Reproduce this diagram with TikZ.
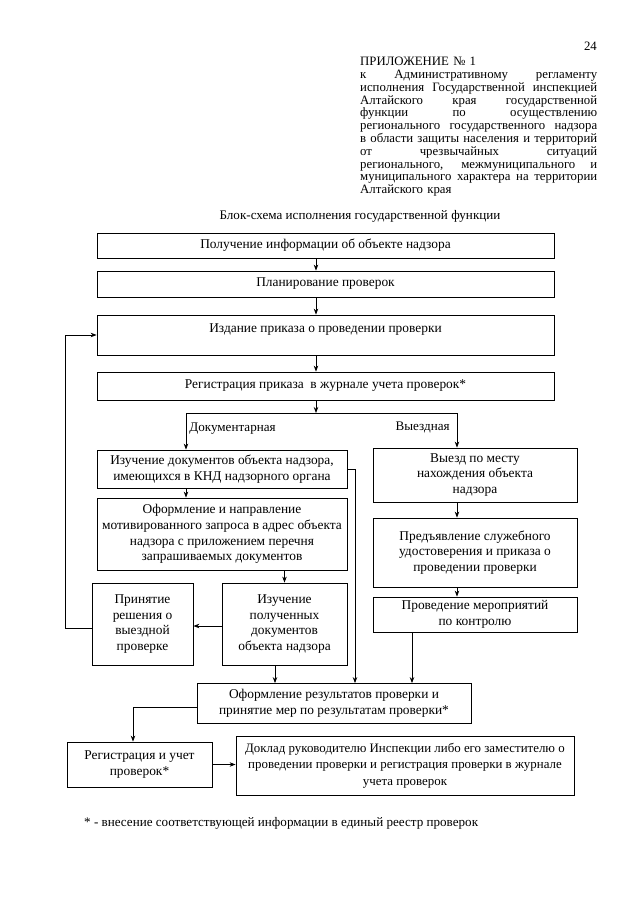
\documentclass[tikz,border=0pt]{standalone}
\usepackage{fontspec}
\setmainfont{Liberation Serif}
\usetikzlibrary{arrows.meta}
\newcommand{\bxfont}{\fontsize{13.4}{15.8}\selectfont}
\newcommand{\dkfont}{\fontsize{12.9}{16.5}\selectfont}
\newcommand{\ttlfont}{\fontsize{13.1}{15.8}\selectfont}
\newcommand{\hdfont}{\fontsize{12.8}{12.8}\selectfont}
\newcommand{\jl}[1]{\leavevmode\hbox to 237pt{\spaceskip=0.25em plus 1fil minus 0.1em\relax #1}}
\begin{document}
\begin{tikzpicture}[x=1pt,y=-1pt,
  box/.style={draw,line width=0.8pt,align=center,font=\bxfont,inner sep=0pt},
  arr/.style={-{Stealth[length=6pt,width=4.5pt]},line width=0.8pt},
  ln/.style={line width=0.8pt}]
\useasboundingbox (0,0) rectangle (640,905);
% header
\node[anchor=base east,font=\hdfont,inner sep=0pt] (pg) at (597,50) {24};
\node[anchor=north west,text width=237pt,align=left,font=\hdfont,inner sep=0pt] (hdr) at (360,57) {%
ПРИЛОЖЕНИЕ № 1\\
\jl{к Административному регламенту}\\
\jl{исполнения Государственной инспекцией}\\
\jl{Алтайского края государственной}\\
\jl{функции по осуществлению}\\
\jl{регионального государственного надзора}\\
\jl{в области защиты населения и территорий}\\
\jl{от чрезвычайных ситуаций}\\
\jl{регионального, межмуниципального и}\\
\jl{муниципального характера на территории}\\
Алтайского края};
\node[font=\ttlfont,inner sep=0pt] (title) at (360,216) {Блок-схема исполнения государственной функции};
% main column
\node[box,minimum width=457pt,minimum height=25pt] (b1) at (325.5,245.5) {Получение информации об объекте надзора};
\node[box,minimum width=457pt,minimum height=26pt] (b2) at (325.5,284) {Планирование проверок};
\node[box,minimum width=457pt,minimum height=40pt,text height=9pt,text depth=14pt] (b3) at (325.5,335) {Издание приказа о проведении проверки};
\node[box,minimum width=457pt,minimum height=28pt] (b4) at (325.5,386) {Регистрация приказа \ в журнале учета проверок*};
\coordinate (cx) at (316,0);
\draw[arr] (b1.south -| cx) -- (b2.north -| cx);
\draw[arr] (b2.south -| cx) -- (b3.north -| cx);
\draw[arr] (b3.south -| cx) -- (b4.north -| cx);
\coordinate (split) at (316,413);
\coordinate (sl) at (186,413);
\coordinate (sr) at (457,413);
\draw[arr] (b4.south -| cx) -- (split);
\draw[ln] (sl) -- (sr);
% left branch
\node[box,minimum width=250pt,minimum height=38pt] (d1) at (222,469) {Изучение документов объекта надзора,\\имеющихся в КНД надзорного органа};
\node[box,minimum width=250pt,minimum height=72pt] (d2) at (222,534) {Оформление и направление\\мотивированного запроса в адрес объекта\\надзора с приложением перечня\\запрашиваемых документов};
\node[box,minimum width=101pt,minimum height=82pt] (dec) at (142.5,624) {Принятие\\решения о\\выездной\\проверке};
\node[box,minimum width=125pt,minimum height=82pt] (rcv) at (284.5,624) {Изучение\\полученных\\документов\\объекта надзора};
\draw[arr] (sl) -- (d1.north -| sl) node[pos=0.42,right=2pt,font=\ttlfont,inner sep=1pt] (lbd) {Документарная};
\draw[arr] (d1.south -| sl) -- (d2.north -| sl);
\draw[arr] (d2.south -| rcv) -- (rcv.north);
\draw[arr] (rcv.west |- 0,626) -- (dec.east |- 0,626);
\coordinate (lft) at (65,0);
\draw[arr] (dec.west |- 0,628) -| (lft |- b3.west) -- (b3.west);
% right branch
\node[box,minimum width=204pt,minimum height=54pt] (v1) at (475,475) {Выезд по месту\\нахождения объекта\\надзора};
\node[box,minimum width=204pt,minimum height=69pt] (v2) at (475,552.5) {Предъявление служебного\\удостоверения и приказа о\\проведении проверки};
\node[box,minimum width=204pt,minimum height=35pt] (v3) at (475,614.5) {Проведение мероприятий\\по контролю};
\draw[arr] (sr) -- (v1.north -| sr) node[pos=0.42,left=6pt,font=\ttlfont,inner sep=1pt] (lbv) {Выездная};
\draw[arr] (v1.south -| sr) -- (v2.north -| sr);
\draw[arr] (v2.south -| sr) -- (v3.north -| sr);
% results
\node[box,minimum width=274pt,minimum height=40pt] (res) at (334,703.5) {Оформление результатов проверки и\\принятие мер по результатам проверки*};
\coordinate (c1) at (275,0);
\coordinate (c2) at (355,0);
\coordinate (c3) at (412,0);
\draw[arr] (rcv.south -| c1) -- (res.north -| c1);
\draw[arr] (d1.east) -| (res.north -| c2);
\draw[arr] (v3.south -| c3) -- (res.north -| c3);
\node[box,minimum width=145pt,minimum height=45pt] (reg) at (139.5,764.5) {Регистрация и учет\\проверок*};
\node[box,font=\dkfont,minimum width=338pt,minimum height=59pt] (dok) at (405,765.5) {Доклад руководителю Инспекции либо его заместителю о\\проведении проверки и регистрация проверки в журнале\\учета проверок};
\coordinate (c4) at (133,0);
\draw[arr] (res.west |- 0,707) -| (reg.north -| c4);
\draw[arr] (reg.east) -- (dok.west |- reg.east);
\node[anchor=base west,font=\ttlfont,inner sep=0pt] (fn) at (84,826) {* - внесение соответствующей информации в единый реестр проверок};
\end{tikzpicture}
\end{document}
